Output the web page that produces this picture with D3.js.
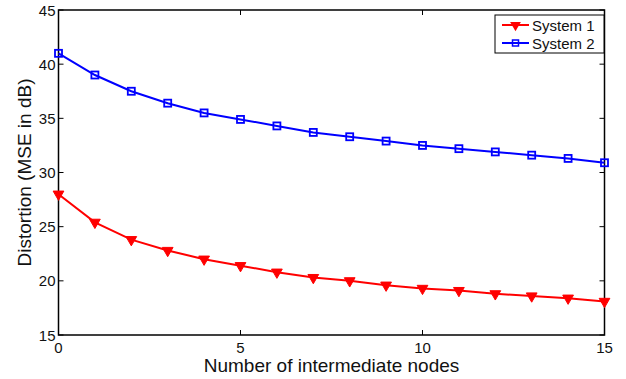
<!DOCTYPE html>
<html>
<head>
<script src="https://cdn.jsdelivr.net/npm/d3@7"></script>
<style>
  body { margin: 0; background: #fff; }
  svg { font-family: "Liberation Sans", Arial, sans-serif; }
</style>
</head>
<body>
<svg width="626" height="379"></svg>
<script>
  const nodes = [0, 1, 2, 3, 4, 5, 6, 7, 8, 9, 10, 11, 12, 13, 14, 15];
  const system1 = [28.0, 25.4, 23.8, 22.8, 22.0, 21.4, 20.8, 20.3, 20.0, 19.6, 19.3, 19.1, 18.8, 18.6, 18.4, 18.1];
  const system2 = [41.0, 39.0, 37.5, 36.4, 35.5, 34.9, 34.3, 33.7, 33.3, 32.9, 32.5, 32.2, 31.9, 31.6, 31.3, 30.9];
  const xTicks = [0, 5, 10, 15];
  const yTicks = [15, 20, 25, 30, 35, 40, 45];

  const svg = d3.select("svg");
  const pLeft = 58.5, pRight = 604.5, pTop = 10, pBottom = 335;

  const x = d3.scaleLinear().domain([0, 15]).range([pLeft, pRight]);
  const y = d3.scaleLinear().domain([15, 45]).range([pBottom, pTop]);

  // ticks on all four sides, pointing inward
  const g = svg.append("g");
  xTicks.forEach(t => {
    g.append("line").attr("x1", x(t)).attr("x2", x(t)).attr("y1", pBottom).attr("y2", pBottom - 5).attr("stroke", "#000");
    g.append("line").attr("x1", x(t)).attr("x2", x(t)).attr("y1", pTop).attr("y2", pTop + 5).attr("stroke", "#000");
    g.append("text").attr("x", x(t)).attr("y", pBottom + 18).attr("text-anchor", "middle")
      .attr("font-size", 15).attr("fill", "#111").text(t);
  });
  yTicks.forEach(t => {
    g.append("line").attr("x1", pLeft).attr("x2", pLeft + 5).attr("y1", y(t)).attr("y2", y(t)).attr("stroke", "#000");
    g.append("line").attr("x1", pRight).attr("x2", pRight - 5).attr("y1", y(t)).attr("y2", y(t)).attr("stroke", "#000");
    g.append("text").attr("x", pLeft - 3).attr("y", y(t) + 5.5).attr("text-anchor", "end")
      .attr("font-size", 15).attr("fill", "#111").text(t);
  });

  svg.append("rect").attr("x", pLeft).attr("y", pTop).attr("width", pRight - pLeft).attr("height", pBottom - pTop)
    .attr("fill", "none").attr("stroke", "#000").attr("stroke-width", 1.5);

  const line = d3.line().x((d, i) => x(nodes[i])).y(d => y(d));

  // System 2 (blue squares)
  svg.append("path").datum(system2).attr("d", line).attr("fill", "none").attr("stroke", "#0000ff").attr("stroke-width", 2);
  svg.selectAll(".sq").data(system2).enter().append("rect")
    .attr("x", (d, i) => x(nodes[i]) - 3.5).attr("y", d => y(d) - 3.5)
    .attr("width", 7).attr("height", 7).attr("fill", "none").attr("stroke", "#0000ff").attr("stroke-width", 1.8);

  // System 1 (red down triangles)
  svg.append("path").datum(system1).attr("d", line).attr("fill", "none").attr("stroke", "#ff0000").attr("stroke-width", 2);
  const tri = d3.symbol().type(d3.symbolTriangle).size(50);
  svg.selectAll(".tri").data(system1).enter().append("path")
    .attr("d", tri)
    .attr("transform", (d, i) => `translate(${x(nodes[i])},${y(d)}) rotate(180)`)
    .attr("fill", "#ff0000").attr("stroke", "#ff0000").attr("stroke-width", 1);

  // legend
  const lg = svg.append("g");
  lg.append("rect").attr("x", 495).attr("y", 15).attr("width", 109).attr("height", 38)
    .attr("fill", "#fff").attr("stroke", "#000").attr("stroke-width", 1);
  const entries = [
    { name: "System 1", color: "#ff0000", shape: "tri", yy: 25 },
    { name: "System 2", color: "#0000ff", shape: "sq", yy: 43 }
  ];
  entries.forEach(e => {
    lg.append("line").attr("x1", 502).attr("x2", 529).attr("y1", e.yy).attr("y2", e.yy)
      .attr("stroke", e.color).attr("stroke-width", 2);
    if (e.shape === "tri") {
      lg.append("path").attr("d", tri).attr("transform", `translate(515.5,${e.yy}) rotate(180)`).attr("fill", e.color);
    } else {
      lg.append("rect").attr("x", 512.5).attr("y", e.yy - 3).attr("width", 6).attr("height", 6)
        .attr("fill", "none").attr("stroke", e.color).attr("stroke-width", 1.5);
    }
    lg.append("text").attr("x", 532).attr("y", e.yy + 5.5).attr("font-size", 15).attr("fill", "#111").text(e.name);
  });

  // axis labels
  svg.append("text").attr("x", (pLeft + pRight) / 2).attr("y", 372).attr("text-anchor", "middle")
    .attr("font-size", 19).attr("fill", "#111").text("Number of intermediate nodes");
  svg.append("text").attr("transform", `translate(31,${(pTop + pBottom) / 2}) rotate(-90)`)
    .attr("text-anchor", "middle").attr("font-size", 19).attr("fill", "#111").text("Distortion (MSE in dB)");
</script>
</body>
</html>
